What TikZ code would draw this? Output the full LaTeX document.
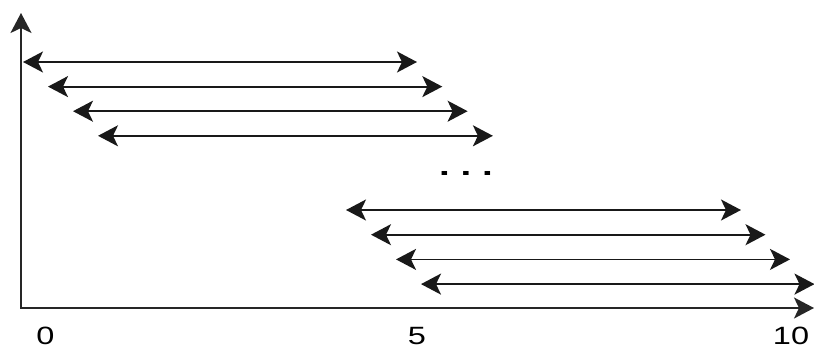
\documentclass[tikz,border=0pt]{standalone}
\usepackage{fontspec}
\setmainfont{Liberation Sans}
\usetikzlibrary{arrows.meta}
\usetikzlibrary{positioning}

\begin{document}
\begin{tikzpicture}[x=1pt, y=-1pt, >={Stealth[length=20pt, width=21pt, inset=5pt]}]
			\tikzstyle{span}=[<->, line width=1.8pt, draw=black!90]
			\tikzstyle{axis}=[<->, line width=1.8pt, draw=black!85]
			\tikzstyle{tick}=[inner sep=0pt, xscale=1.3, font=\fontsize{25}{25}\selectfont]
			\useasboundingbox (0,0) rectangle (814,349);
			
			% axes
			\coordinate (ytip) at (21,13);
			\coordinate (xtip) at (814,308);
			\draw[axis] (ytip) |- (xtip);
			
			% first group of spans
			\foreach \i in {0,...,3} {
				\coordinate (l\i) at (23+25*\i, 62+24.6*\i);
				\coordinate (r\i) at (417+25.3*\i, 62+24.6*\i);
				\draw[span] (l\i) -- (r\i);
			}
			
			\node[tick, font=\fontsize{27}{27}\selectfont\bfseries, xscale=1.1] (dots) at (466,173) {.\ .\ .};
			
			% second group of spans
			\foreach \i in {0,...,3} {
				\coordinate (L\i) at (346+25*\i, 210+24.7*\i);
				\coordinate (R\i) at (741+24.5*\i, 210+24.7*\i);
				\draw[span] (L\i) -- (R\i);
			}
			
			\node[tick] (t0) at (45.5,336) {0};
			\node[tick] (t5) at (417,336) {5};
			\node[tick] (t10) at (791,336) {10};
		\end{tikzpicture}
\end{document}
